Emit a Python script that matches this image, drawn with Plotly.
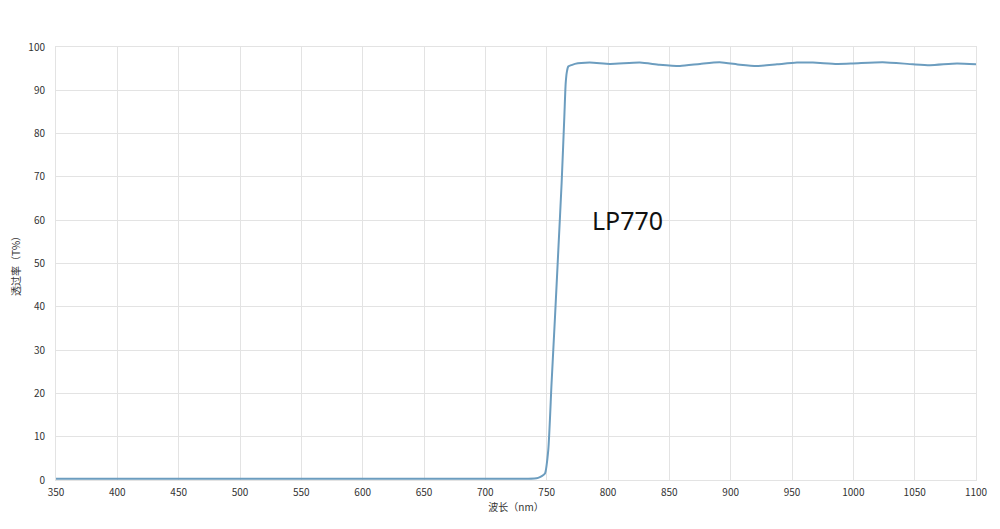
import plotly.graph_objects as go

# wavelength (nm) and transmission (%)
wavelength = [350, 400, 450, 500, 550, 600, 650, 700, 730, 740, 743, 746, 748.6,
              751.3, 754, 756.8, 759.5, 762.2, 764.4, 765.5, 766.5, 767.6, 770,
              773, 785, 801.6, 826, 842, 858.7, 875, 891, 907.6, 921.5, 937.8,
              954, 967, 986.7, 999.7, 1024, 1048.6, 1062.5, 1084.5, 1100]
transmission = [0.3, 0.3, 0.3, 0.3, 0.3, 0.3, 0.3, 0.3, 0.3, 0.35, 0.5, 0.9, 1.5,
                6.9, 22.4, 37.7, 53.1, 68.6, 83.9, 91.6, 94.3, 95.5, 95.8,
                96.1, 96.4, 96.1, 96.4, 95.9, 95.6, 96.1, 96.5, 95.9, 95.6, 96.0,
                96.4, 96.4, 96.1, 96.2, 96.5, 96.0, 95.8, 96.2, 96.0]

x_ticks = list(range(350, 1101, 50))
y_ticks = list(range(0, 101, 10))

fig = go.Figure()
fig.add_trace(go.Scatter(x=wavelength, y=transmission, mode="lines",
                         line=dict(color="#6c9dbf", width=2, shape="spline", smoothing=0.6),
                         showlegend=False))

fig.add_annotation(x=815.5, y=60, text="LP770", showarrow=False,
                   font=dict(size=25, color="#111111", family="Noto Sans"))

axis_font = dict(size=10, color="#333333", family="Noto Sans CJK SC")
# page body adds ~8px offset, so the figure is sized to fit inside the window
fig.update_layout(
    width=984, height=513,
    margin=dict(l=48, r=16, t=39, b=41),
    paper_bgcolor="white", plot_bgcolor="white",
    font=axis_font,
    xaxis=dict(range=[350, 1100], tickvals=x_ticks, showgrid=True,
               gridcolor="#e3e3e3", gridwidth=1, zeroline=False,
               showline=True, linecolor="#e3e3e3", mirror=True,
               ticks="", tickfont=axis_font, ticklabelstandoff=3,
               automargin=False,
               title=dict(text="波长（nm）", font=axis_font, standoff=4)),
    yaxis=dict(range=[0, 100], tickvals=y_ticks, showgrid=True,
               gridcolor="#e3e3e3", gridwidth=1, zeroline=False,
               showline=True, linecolor="#e3e3e3", mirror=True,
               ticks="", tickfont=axis_font, ticklabelstandoff=8,
               automargin=False,
               title=dict(text="透过率（T%）", font=axis_font, standoff=6)),
)

fig.write_html("out.html")
